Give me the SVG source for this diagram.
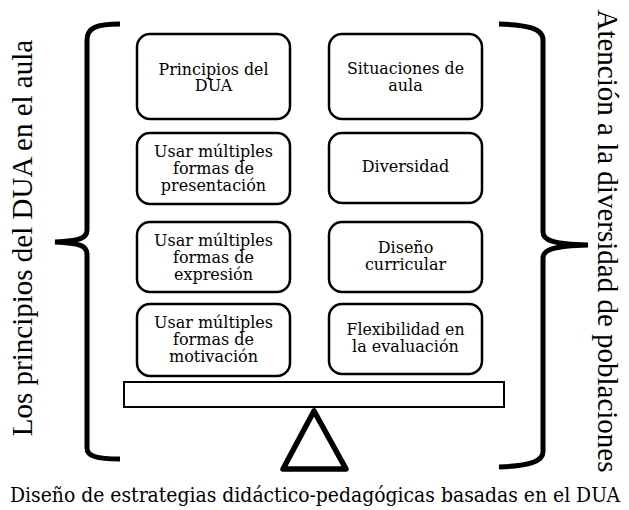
<svg xmlns="http://www.w3.org/2000/svg" width="629" height="510" viewBox="0 0 629 510">
<style>
.box{fill:#fff;stroke:#000;stroke-width:2.5}
.t{font-family:'DejaVu Serif',serif;font-size:16px;text-anchor:middle;fill:#000}
.side{font-family:'Liberation Serif','Times New Roman',serif;font-size:29px;text-anchor:middle;fill:#000}
.cap{font-family:'DejaVu Serif',serif;font-size:20px;text-anchor:middle;fill:#000}
.brace{fill:none;stroke:#000;stroke-width:5;stroke-linecap:butt}
</style>
<rect width="629" height="510" fill="#fff"/>
<g id="connectors">
<path class="brace" d="M120,24 C96,24 87,28 87,40 L87,230 C87,238 80,241 55,242 C80,243 87,246 87,254 L87,448 C87,456 96,459 120,459"/>
<path class="brace" d="M499,24 C527,25 543,28 543,40 L543,232 C543,240 552,244 588,245 C552,246 543,250 543,258 L543,452 C543,462 527,466 499,467"/>
</g>
<g id="beam"><rect x="124" y="382" width="380" height="25" fill="#fff" stroke="#000" stroke-width="2"/></g>
<g id="fulcrum"><polygon points="314,411 283,469 346,469" fill="none" stroke="#000" stroke-width="5.5" stroke-linejoin="round"/></g>
<g id="n1"><rect class="box" x="137" y="34" width="153" height="85" rx="13"/><text class="t"><tspan x="213.5" y="75" textLength="110" lengthAdjust="spacingAndGlyphs">Principios del</tspan><tspan x="213.5" y="91">DUA</tspan></text></g>
<g id="n2"><rect class="box" x="137" y="133" width="153" height="71" rx="13"/><text class="t"><tspan x="213.5" y="157" textLength="119" lengthAdjust="spacingAndGlyphs">Usar múltiples</tspan><tspan x="213.5" y="174">formas de</tspan><tspan x="213.5" y="191">presentación</tspan></text></g>
<g id="n3"><rect class="box" x="137" y="222" width="153" height="70" rx="13"/><text class="t"><tspan x="213.5" y="246" textLength="119" lengthAdjust="spacingAndGlyphs">Usar múltiples</tspan><tspan x="213.5" y="263">formas de</tspan><tspan x="213.5" y="280">expresión</tspan></text></g>
<g id="n4"><rect class="box" x="137" y="304" width="153" height="72" rx="13"/><text class="t"><tspan x="213.5" y="328" textLength="119" lengthAdjust="spacingAndGlyphs">Usar múltiples</tspan><tspan x="213.5" y="345">formas de</tspan><tspan x="213.5" y="362">motivación</tspan></text></g>
<g id="n5"><rect class="box" x="329" y="34" width="153" height="85" rx="13"/><text class="t"><tspan x="405.5" y="74" textLength="117" lengthAdjust="spacingAndGlyphs">Situaciones de</tspan><tspan x="405.5" y="91">aula</tspan></text></g>
<g id="n6"><rect class="box" x="329" y="133" width="153" height="70" rx="13"/><text class="t" x="405.5" y="172">Diversidad</text></g>
<g id="n7"><rect class="box" x="329" y="222" width="153" height="70" rx="13"/><text class="t"><tspan x="405.5" y="253">Diseño</tspan><tspan x="405.5" y="270">curricular</tspan></text></g>
<g id="n8"><rect class="box" x="329" y="304" width="153" height="70" rx="13"/><text class="t"><tspan x="405.5" y="335" textLength="118" lengthAdjust="spacingAndGlyphs">Flexibilidad en</tspan><tspan x="405.5" y="352">la evaluación</tspan></text></g>
<g id="labels">
<text class="side" transform="translate(32,238) rotate(-90)">Los principios del DUA en el aula</text>
<text class="side" transform="translate(598,241) rotate(90)">Atención a la diversidad de poblaciones</text>
<text class="cap" x="315" y="502" textLength="610" lengthAdjust="spacingAndGlyphs">Diseño de estrategias didáctico-pedagógicas basadas en el DUA</text>
</g>
</svg>
